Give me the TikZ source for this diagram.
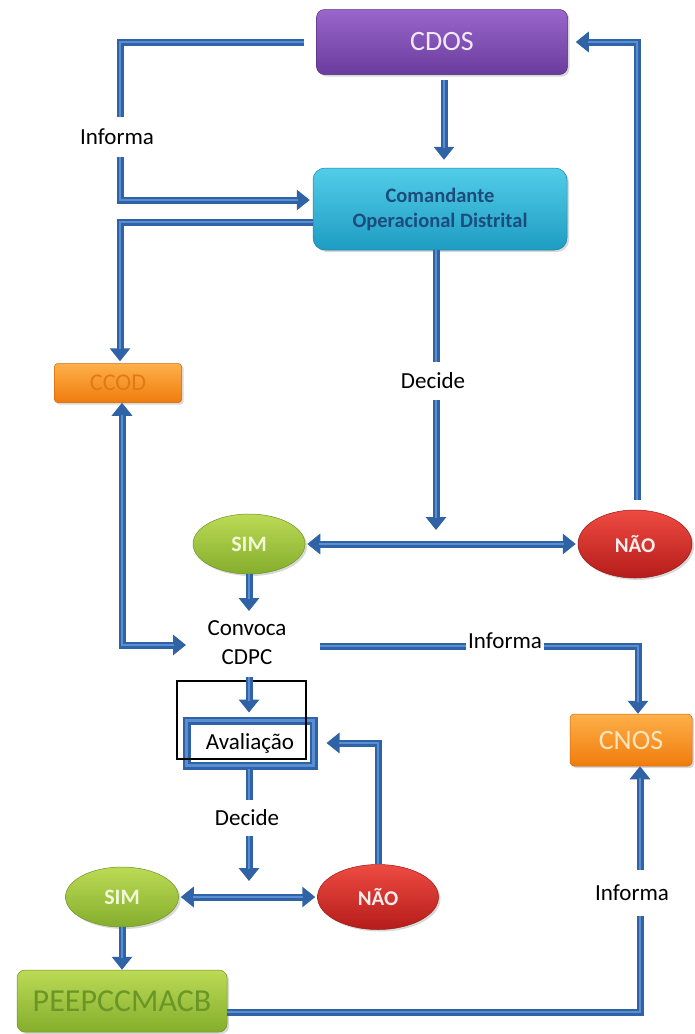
\documentclass[tikz,border=0pt]{standalone}
\usepackage{fontspec}
\setmainfont{Carlito}
\usetikzlibrary{arrows.meta,shadows,shapes.geometric,calc}
\definecolor{pipedark}{HTML}{2F63A6}
\definecolor{pipelight}{HTML}{5A8ED2}
\definecolor{cdosA}{HTML}{9A66CC}
\definecolor{cdosB}{HTML}{6A3C9C}
\definecolor{cdosT}{HTML}{F1E8FA}
\definecolor{comA}{HTML}{52CDE8}
\definecolor{comB}{HTML}{1E9CC2}
\definecolor{comT}{HTML}{1C4C7C}
\definecolor{orA}{HTML}{FDB04A}
\definecolor{orB}{HTML}{F07C0C}
\definecolor{ccodT}{HTML}{E07A18}
\definecolor{cnosT}{HTML}{FFE4BC}
\definecolor{grA}{HTML}{BCDA56}
\definecolor{grB}{HTML}{84AE2C}
\definecolor{simT}{HTML}{F2F9D6}
\definecolor{peepT}{HTML}{6A9628}
\definecolor{redA}{HTML}{EE4B42}
\definecolor{redB}{HTML}{B51C1A}
\definecolor{naoT}{HTML}{FFECEC}
\pgfdeclarelayer{top}
\pgfsetlayers{main,top}
\begin{document}
\begin{tikzpicture}[x=1pt,y=-1pt,
  pipe/.style={line width=7pt,draw=pipedark,line join=miter,-{Triangle[length=13pt,width=20pt]},
    postaction={draw=pipelight,line width=2.4pt,-,shorten >=12pt}},
  pipe2/.style={line width=7pt,draw=pipedark,line join=miter,{Triangle[length=13pt,width=20pt]}-{Triangle[length=13pt,width=20pt]},
    postaction={draw=pipelight,line width=2.4pt,-,shorten >=12pt,shorten <=12pt}},
  lbl/.style={fill=white,inner sep=2pt,align=center,font=\fontsize{23}{29}\selectfont},
  box/.style={inner sep=0pt,align=center,drop shadow={opacity=0.3,shadow xshift=2pt,shadow yshift=-2pt}},
  oval/.style={ellipse,inner sep=0pt,drop shadow={opacity=0.3,shadow xshift=2pt,shadow yshift=-2pt}},
  grn/.style={top color=grA,bottom color=grB,draw=grB!85!black,line width=0.5pt},
  red/.style={top color=redA,bottom color=redB,draw=redB!85!black,line width=0.5pt},
  org/.style={top color=orA,bottom color=orB,draw=orB!85!black,line width=0.5pt}]
\fill[white] (0,0) rectangle (695,1034);
\useasboundingbox (0,0) rectangle (695,1034);

% boxes
\node[box,rounded corners=8pt,top color=cdosA,bottom color=cdosB,draw=cdosB!80!black,line width=0.5pt,
  minimum width=251pt,minimum height=65pt,text=cdosT,font=\fontsize{28}{30}\selectfont] (cdos) at (442,42) {CDOS};
\node[box,rounded corners=12pt,top color=comA,bottom color=comB,draw=comB!85!black,line width=0.5pt,
  minimum width=254pt,minimum height=82pt,text=comT,font=\bfseries\fontsize{20.5}{25}\selectfont] (com) at (440,209) {Comandante\\Operacional Distrital};
\node[box,org,rounded corners=3pt,minimum width=127pt,minimum height=39pt,text=ccodT,
  font=\fontsize{24}{26}\selectfont] (ccod) at (118,383) {CCOD};
\node[oval,grn,minimum width=112pt,minimum height=60pt,text=simT,font=\bfseries\fontsize{22}{24}\selectfont] (sim1) at (249,544) {SIM};
\node[oval,red,minimum width=114pt,minimum height=68pt,text=naoT,font=\bfseries\fontsize{21}{24}\selectfont] (nao1) at (635,544) {NÃO};
\node[box,org,rounded corners=4pt,minimum width=122pt,minimum height=52pt,text=cnosT,
  font=\fontsize{28}{30}\selectfont] (cnos) at (631,740) {CNOS};
\node[draw=pipedark,line width=8pt,fill=white,minimum width=127pt,minimum height=45pt,inner sep=0pt,
  font=\fontsize{23}{29}\selectfont,postaction={draw=pipelight,line width=2.4pt}] (aval) at (250,743) {Avaliação};
\node[oval,grn,minimum width=113pt,minimum height=60pt,text=simT,font=\bfseries\fontsize{22}{24}\selectfont] (sim2) at (122,897) {SIM};
\node[oval,red,minimum width=121pt,minimum height=65pt,text=naoT,font=\bfseries\fontsize{21}{24}\selectfont] (nao2) at (378,897) {NÃO};
\node[box,grn,rounded corners=8pt,minimum width=210pt,minimum height=62pt,text=peepT,
  font=\fontsize{32}{34}\selectfont] (peep) at (122,1001) {PEEPCCMACB};

% thin black frame
\draw[line width=1.3pt] (177,681) rectangle (306,759);

% labels (on top layer)
\begin{pgfonlayer}{top}
\node[lbl,minimum height=40pt] (inf1) at (117,137) {Informa};
\node[lbl,minimum height=38pt] (dec1) at (433,381) {Decide};
\node[lbl] (conv) at (247,643) {Convoca\\CDPC};
\node[lbl,minimum height=24pt] (inf2) at (505,641) {Informa};
\node[lbl,minimum height=36pt] (dec2) at (247,818) {Decide};
\node[lbl,minimum height=46pt] (inf3) at (632,893) {Informa};
\end{pgfonlayer}

% connectors
\coordinate (k1) at (120,200);
\draw[pipe] ([xshift=-12pt]cdos.west) -| (k1) -- ([xshift=-3pt]com.west |- k1);
\coordinate (k2) at (120,222);
\draw[pipe] (com.west |- k2) -- (k2) -- ([yshift=2pt]k2 |- ccod.north);
\draw[pipe] ($(cdos.south)+(2,5)$) -- ($(com.north)+(4,-8)$);
\coordinate (k3) at (436,530);
\draw[pipe] (com.south -| k3) -- (k3);
\draw[pipe2] ([xshift=2pt]sim1.east) -- ([xshift=-2pt]nao1.west);
\coordinate (k4) at (637,42);
\draw[pipe] ($(nao1.north -| k4)+(0,-10)$) -- (k4) -- ($(cdos.east)+(8,0)$);
\coordinate (k5) at (249,611);
\draw[pipe] (sim1.south) -- (k5);
\coordinate (k6) at (122,645);
\coordinate (k6e) at (186,645);
\draw[pipe2] (ccod.south -| k6) -- (k6) -- (k6e);
\coordinate (k7s) at (320,646);
\coordinate (k7) at (638,646);
\draw[pipe] (k7s) -- (k7) -- (k7 |- cnos.north);
\coordinate (k8) at (249,677);
\draw[pipe] (k8) -- ([yshift=4pt]aval.north -| k8);
\coordinate (k9) at (378,743);
\draw[pipe] (nao2.north) -- (k9) -- ($(aval.east)+(9,0)$);
\coordinate (k10s) at (249,769);
\coordinate (k10) at (249,881);
\draw[pipe] (k10s) -- (k10);
\draw[pipe2] ([xshift=2pt]sim2.east) -- ([xshift=-2pt]nao2.west);
\draw[pipe] (sim2.south) -- (sim2.south |- peep.north);
\coordinate (k11) at (640,1012);
\draw[pipe] (peep.east |- k11) -- (k11) -- (k11 |- cnos.south);
\end{tikzpicture}
\end{document}
